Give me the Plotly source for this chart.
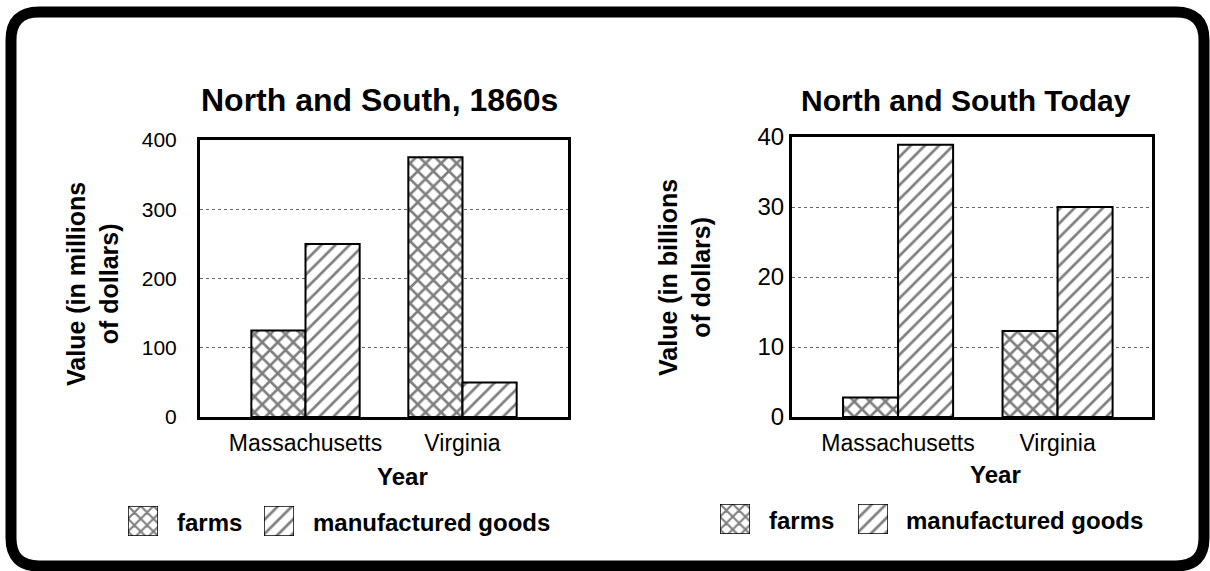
import plotly.graph_objects as go

# ---- data ----
states = ["Massachusetts", "Virginia"]
farms_1860 = [125, 375]
manuf_1860 = [250, 50]
farms_today = [2.8, 12.3]
manuf_today = [38.9, 30]
left_ticks = [0, 100, 200, 300, 400]
right_ticks = [0, 10, 20, 30, 40]
series_names = ["farms", "manufactured goods"]
titles = ["North and South, 1860s", "North and South Today"]
y_titles = ["Value (in millions<br>of dollars)", "Value (in billions<br>of dollars)"]
x_title = "Year"

W, H = 1210, 571
FONT = "Liberation Sans"


def px(x):
    return x / W


def py(y):
    return 1 - y / H


fig = go.Figure()

pat_farm = dict(shape="x", fgcolor="black", bgcolor="white", size=11, solidity=0.42, fillmode="overlay")
pat_man = dict(shape="/", fgcolor="black", bgcolor="white", size=10, solidity=0.27, fillmode="overlay")
line = dict(color="black", width=2)

fig.add_trace(go.Bar(x=states, y=farms_1860, name=series_names[0], xaxis="x", yaxis="y",
                     marker=dict(color="white", line=line, pattern=pat_farm), showlegend=False))
fig.add_trace(go.Bar(x=states, y=manuf_1860, name=series_names[1], xaxis="x", yaxis="y",
                     marker=dict(color="white", line=line, pattern=pat_man), showlegend=False))
fig.add_trace(go.Bar(x=states, y=farms_today, name=series_names[0], xaxis="x2", yaxis="y2",
                     marker=dict(color="white", line=line, pattern=pat_farm), showlegend=False))
fig.add_trace(go.Bar(x=states, y=manuf_today, name=series_names[1], xaxis="x2", yaxis="y2",
                     marker=dict(color="white", line=line, pattern=pat_man), showlegend=False))

# legend swatches as tiny axes
sw_pat_farm = dict(pat_farm, size=9)
sw_pat_man = dict(pat_man, size=10)
swatches = [
    ("x3", "y3", (128, 158), (506, 536), sw_pat_farm),
    ("x4", "y4", (264, 294), (506, 536), sw_pat_man),
    ("x5", "y5", (720, 750), (504, 534), sw_pat_farm),
    ("x6", "y6", (858, 888), (504, 534), sw_pat_man),
]
axis_common_hidden = dict(visible=False, fixedrange=True, automargin=False)
for xa, ya, (x0, x1), (y0, y1), pat in swatches:
    fig.add_trace(go.Bar(x=[0], y=[1], width=[1], xaxis=xa, yaxis=ya, showlegend=False,
                         marker=dict(color="white", line=dict(color="black", width=1.5), pattern=pat)))
    n = xa[1:]
    fig.layout["xaxis" + n] = dict(domain=[px(x0), px(x1)], range=[-0.5, 0.5], anchor=ya, **axis_common_hidden)
    fig.layout["yaxis" + n] = dict(domain=[py(y1), py(y0)], range=[0, 1], anchor=xa, **axis_common_hidden)

yax_common = dict(showline=True, mirror=True, linecolor="black", linewidth=3,
                  showgrid=True, gridcolor="#666666", gridwidth=1, griddash="dot",
                  zeroline=False, ticks="", ticklen=0, fixedrange=True, automargin=False)
xax_common = dict(showline=True, mirror=True, linecolor="black", linewidth=3,
                  showgrid=False, zeroline=False, ticks="", ticklen=0, fixedrange=True, automargin=False,
                  tickfont=dict(family=FONT, size=23, color="black"), ticklabelstandoff=3)

fig.update_layout(
    template="none",
    xaxis=dict(domain=[px(200), px(568)], range=[-0.672, 1.672], anchor="y", **xax_common),
    yaxis=dict(domain=[py(417), py(140)], range=[0, 400], tickvals=left_ticks, anchor="x",
               tickfont=dict(family=FONT, size=21, color="black"), ticklabelstandoff=16, **yax_common),
    xaxis2=dict(domain=[px(792), px(1152)], range=[-0.665, 1.592], anchor="y2", **xax_common),
    yaxis2=dict(domain=[py(417), py(137)], range=[0, 40], tickvals=right_ticks, anchor="x2",
                tickfont=dict(family=FONT, size=24, color="black"), ticklabelstandoff=0, **yax_common),
    barmode="group",
    bargap=0.31,
    bargroupgap=0,
    width=W, height=H,
    margin=dict(l=0, r=0, t=0, b=0, pad=0, autoexpand=False),
    paper_bgcolor="white",
    plot_bgcolor="white",
    font=dict(family=FONT, color="black"),
    showlegend=False,
)

ann = []
# titles
ann.append(dict(x=px(379), y=py(100), text="<b>%s</b>" % titles[0], font=dict(size=32)))
ann.append(dict(x=px(966), y=py(100), text="<b>%s</b>" % titles[1], font=dict(size=30)))
# y titles
ann.append(dict(x=px(92), y=py(284), text="<b>%s</b>" % y_titles[0], textangle=-90, font=dict(size=25)))
ann.append(dict(x=px(684), y=py(278), text="<b>%s</b>" % y_titles[1], textangle=-90, font=dict(size=25)))
# x titles
ann.append(dict(x=px(402), y=py(476), text="<b>%s</b>" % x_title, font=dict(size=24)))
ann.append(dict(x=px(995), y=py(474), text="<b>%s</b>" % x_title, font=dict(size=24)))
# legend labels
ann.append(dict(x=px(175), y=py(522), text="<b>%s</b>" % series_names[0], xanchor="left", font=dict(size=24)))
ann.append(dict(x=px(311), y=py(522), text="<b>%s</b>" % series_names[1], xanchor="left", font=dict(size=24)))
ann.append(dict(x=px(767), y=py(520), text="<b>%s</b>" % series_names[0], xanchor="left", font=dict(size=24)))
ann.append(dict(x=px(904), y=py(520), text="<b>%s</b>" % series_names[1], xanchor="left", font=dict(size=24)))
for a in ann:
    a.setdefault("xanchor", "center")
    a.update(xref="paper", yref="paper", yanchor="middle", showarrow=False)
    a["font"].update(family=FONT, color="black")
fig.update_layout(annotations=ann)

# outer rounded frame
x0, x1, y0, y1, r = 11, 1204, 12, 566, 28
rx, ry = r / W, r / H
X0, X1, Y0, Y1 = px(x0), px(x1), py(y0), py(y1)
path = (f"M {X0+rx},{Y0} L {X1-rx},{Y0} Q {X1},{Y0} {X1},{Y0-ry} "
        f"L {X1},{Y1+ry} Q {X1},{Y1} {X1-rx},{Y1} "
        f"L {X0+rx},{Y1} Q {X0},{Y1} {X0},{Y1+ry} "
        f"L {X0},{Y0-ry} Q {X0},{Y0} {X0+rx},{Y0} Z")
fig.add_shape(type="path", path=path, xref="paper", yref="paper",
              line=dict(color="black", width=11), fillcolor="rgba(0,0,0,0)", layer="above")

fig.write_html("out.html", config={"displayModeBar": False},
               post_script="document.body.style.margin='0';document.body.style.overflow='hidden';")
